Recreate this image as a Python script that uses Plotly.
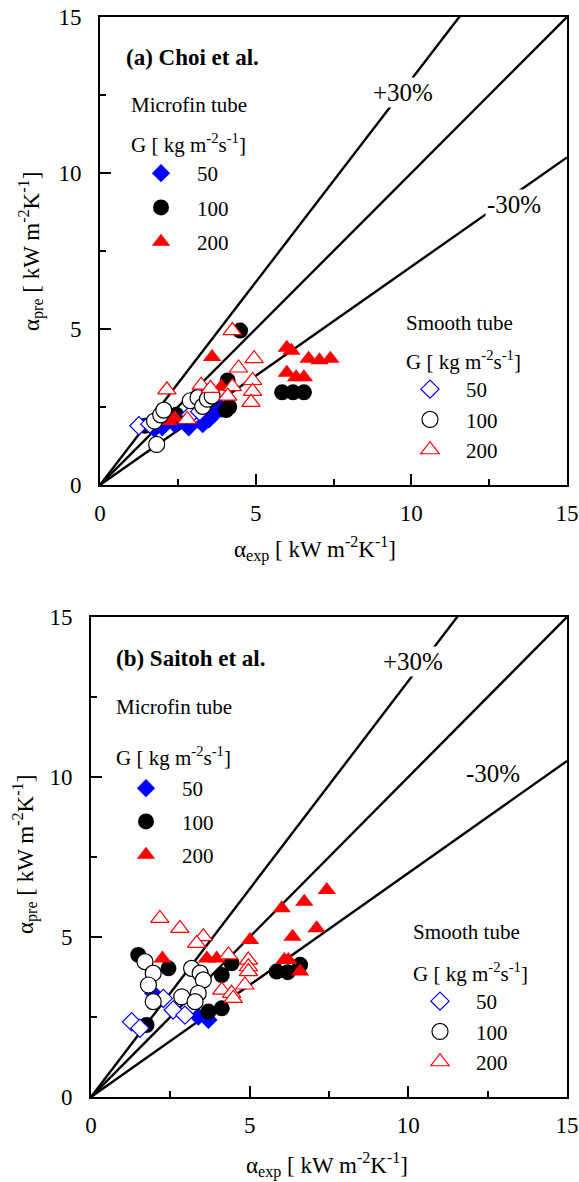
import plotly.graph_objects as go

# ---------------- data (kW m-2 K-1) ----------------
# (a) Choi et al.
a_m50_x = [1.75, 2.0, 2.4, 2.85, 3.3, 3.5, 3.7, 3.9]
a_m50_y = [1.8, 1.85, 1.95, 1.85, 1.95, 2.1, 2.3, 2.45]
a_m100_x = [1.45, 2.45, 4.05, 4.15, 4.1, 4.5, 5.85, 6.2, 6.55]
a_m100_y = [1.9, 2.25, 2.4, 2.5, 3.35, 4.95, 2.97, 2.97, 2.97]
a_m200_x = [2.2, 2.4, 3.6, 3.9, 6.0, 6.15, 6.7, 7.05, 7.4, 6.0, 6.3, 6.55]
a_m200_y = [2.05, 2.15, 4.1, 3.15, 4.4, 4.3, 4.05, 4.0, 4.05, 3.6, 3.45, 3.45]
a_s50_x = [1.25, 1.6, 2.9, 3.2]
a_s50_y = [1.9, 1.95, 2.25, 2.35]
a_s100_x = [1.82, 1.75, 1.95, 2.05, 2.9, 3.15, 3.3, 3.45, 3.6]
a_s100_y = [1.3, 2.05, 2.25, 2.4, 2.7, 2.8, 2.52, 2.75, 2.85]
a_s200_x = [2.15, 2.8, 3.25, 3.55, 4.25, 4.45, 4.25, 4.1, 4.95, 4.9, 4.9, 4.85]
a_s200_y = [3.05, 2.1, 3.2, 3.1, 4.95, 3.75, 3.15, 2.85, 4.05, 3.35, 3.0, 2.65]

# (b) Saitoh et al.
b_m50_x = [1.96, 3.38, 3.7]
b_m50_y = [3.24, 2.51, 2.41]
b_m100_x = [1.49, 2.44, 1.75, 4.12, 4.43, 3.7, 4.12, 5.85, 6.2, 6.59]
b_m100_y = [4.44, 4.02, 2.25, 3.81, 4.18, 2.67, 2.77, 3.92, 3.9, 4.13]
b_m200_x = [2.25, 3.65, 3.96, 5.01, 6.01, 6.72, 7.43, 6.35, 7.11, 6.09, 6.22, 6.59]
b_m200_y = [4.33, 4.33, 4.33, 4.91, 5.9, 6.1, 6.47, 5.01, 5.27, 4.28, 4.28, 3.92]
b_s50_x = [1.28, 1.54, 2.28, 2.59, 2.96]
b_s50_y = [2.35, 2.15, 3.08, 2.72, 2.56]
b_s100_x = [1.7, 1.96, 1.81, 1.96, 3.17, 3.44, 3.54, 3.38, 2.86, 3.28]
b_s100_y = [4.23, 3.87, 3.5, 2.98, 4.02, 3.87, 3.66, 3.24, 3.13, 2.98]
b_s200_x = [2.17, 2.8, 3.54, 3.33, 4.33, 4.96, 4.96, 4.96, 4.85, 4.12, 4.43, 4.48]
b_s200_y = [5.58, 5.27, 5.01, 4.8, 4.44, 4.28, 4.07, 3.92, 3.5, 3.34, 3.24, 3.08]

mass_flux = ["50", "100", "200"]
ratio_factors = [1.3, 1.0, 0.7]
line_x = [0, 15]
tick_vals = [0, 5, 10, 15]

FONT = "Liberation Serif, Times New Roman, serif"
W, H = 579, 1182

fig = go.Figure()

def px_x(p):
    return p / W

def px_y(p):
    return 1 - p / H

styles_micro = [
    dict(symbol="diamond", size=14, color="#0000ff", line=dict(width=0)),
    dict(symbol="circle", size=16, color="black", line=dict(width=0)),
    dict(symbol="triangle-up", size=16, color="#ff0000", line=dict(width=0)),
]
styles_smooth = [
    dict(symbol="diamond", size=14, color="white", line=dict(width=1.2, color="#0000ff")),
    dict(symbol="circle", size=16, color="white", line=dict(width=1.2, color="black")),
    dict(symbol="triangle-up", size=16, color="white", line=dict(width=1.2, color="#ff0000")),
]

panels = [
    dict(xa="x", ya="y",
         micro=[(a_m50_x, a_m50_y), (a_m100_x, a_m100_y), (a_m200_x, a_m200_y)],
         smooth=[(a_s50_x, a_s50_y), (a_s100_x, a_s100_y), (a_s200_x, a_s200_y)],
         lm="legend", ls="legend2"),
    dict(xa="x2", ya="y2",
         micro=[(b_m50_x, b_m50_y), (b_m100_x, b_m100_y), (b_m200_x, b_m200_y)],
         smooth=[(b_s50_x, b_s50_y), (b_s100_x, b_s100_y), (b_s200_x, b_s200_y)],
         lm="legend3", ls="legend4"),
]

for pi, p in enumerate(panels):
    for f in ratio_factors:
        fig.add_trace(go.Scatter(x=line_x, y=[f * v for v in line_x], mode="lines",
                                 line=dict(color="black", width=2.4),
                                 xaxis=p["xa"], yaxis=p["ya"], showlegend=False,
                                 hoverinfo="skip"))
    for i, (xs, ys) in enumerate(p["micro"]):
        fig.add_trace(go.Scatter(x=xs, y=ys, mode="markers", marker=styles_micro[i],
                                 name=mass_flux[i], legend=p["lm"],
                                 legendgroup=f"p{pi}m{i}",
                                 xaxis=p["xa"], yaxis=p["ya"], cliponaxis=False))
    for i, (xs, ys) in enumerate(p["smooth"]):
        fig.add_trace(go.Scatter(x=xs, y=ys, mode="markers", marker=styles_smooth[i],
                                 name=mass_flux[i], legend=p["ls"],
                                 legendgroup=f"p{pi}s{i}",
                                 xaxis=p["xa"], yaxis=p["ya"], cliponaxis=False))

axis_common = dict(range=[0, 15], tickmode="array", tickvals=tick_vals,
                   ticks="inside", ticklen=11, tickwidth=2, tickcolor="black",
                   showline=True, linewidth=2, linecolor="black", mirror=True,
                   showgrid=False, zeroline=False, automargin=False,
                   tickfont=dict(family=FONT, size=23, color="black"),
                   minor=dict(dtick=2.5, tick0=0, ticks="inside", ticklen=6,
                              tickwidth=2, tickcolor="black", showgrid=False))

fig.update_layout(
    template="none",
    width=W, height=H, margin=dict(l=0, r=0, t=0, b=0, pad=0), autosize=False,
    paper_bgcolor="white", plot_bgcolor="white",
    font=dict(family=FONT, size=21, color="black"),
    xaxis=dict(domain=[px_x(100), px_x(567)], anchor="y", ticklabelstandoff=6, **axis_common),
    yaxis=dict(domain=[px_y(485), px_y(17)], anchor="x", ticklabelstandoff=12, **axis_common),
    xaxis2=dict(domain=[px_x(91), px_x(567)], anchor="y2", ticklabelstandoff=6, **axis_common),
    yaxis2=dict(domain=[px_y(1097), px_y(617)], anchor="x2", ticklabelstandoff=12, **axis_common),
)

legend_common = dict(bgcolor="rgba(0,0,0,0)", borderwidth=0, traceorder="grouped",
                     itemsizing="trace", itemwidth=62, xanchor="left", yanchor="top",
                     font=dict(family=FONT, size=21, color="black"))
fig.update_layout(
    legend=dict(x=px_x(125), y=px_y(153), tracegroupgap=4, **legend_common),
    legend2=dict(x=px_x(394), y=px_y(369), tracegroupgap=0, **legend_common),
    legend3=dict(x=px_x(110), y=px_y(768), tracegroupgap=3, **legend_common),
    legend4=dict(x=px_x(404), y=px_y(981), tracegroupgap=0, **legend_common),
)

unit = "[ kW m<sup>-2</sup>K<sup>-1</sup>]"
gunit = "G [ kg m<sup>-2</sup>s<sup>-1</sup>]"

def ann(text, x, y, size=21, bold=False, xanchor="left", angle=0, bg=None):
    d = dict(text=f"<b>{text}</b>" if bold else text, x=px_x(x), y=px_y(y),
             xref="paper", yref="paper", xanchor=xanchor, yanchor="middle",
             showarrow=False, textangle=angle,
             font=dict(family=FONT, size=size, color="black"))
    if bg:
        d["bgcolor"] = bg
    fig.add_annotation(**d)

# panel (a)
ann("(a) Choi et al.", 124, 58, size=23, bold=True)
ann("Microfin tube", 129, 105)
ann(gunit, 129, 143)
ann("+30%", 403, 93, size=25, xanchor="center", bg="white")
ann("-30%", 514, 205, size=25, xanchor="center", bg="white")
ann("Smooth tube", 404, 323)
ann(gunit, 404, 360)
ann("α<sub>exp</sub> " + unit, 315, 549, size=23, xanchor="center")
ann("α<sub>pre</sub> " + unit, 31, 252, size=23, xanchor="center", angle=-90)

# panel (b)
ann("(b) Saitoh et al.", 114, 658, size=23, bold=True)
ann("Microfin tube", 114, 707)
ann(gunit, 114, 756)
ann("+30%", 413, 661, size=25, xanchor="center", bg="white")
ann("-30%", 493, 773, size=25, xanchor="center", bg="white")
ann("Smooth tube", 411, 932)
ann(gunit, 411, 972)
ann("α<sub>exp</sub> " + unit, 327, 1165, size=23, xanchor="center")
ann("α<sub>pre</sub> " + unit, 25, 855, size=23, xanchor="center", angle=-90)

fig.write_html("out.html",
               config={"displayModeBar": False, "staticPlot": True},
               post_script="document.body.style.margin='0px';document.body.style.padding='0px';")
